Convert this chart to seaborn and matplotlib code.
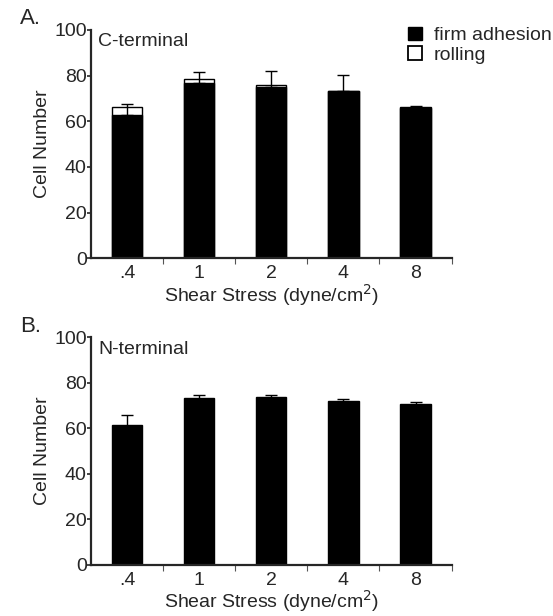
import numpy as np
import pandas as pd
import matplotlib
matplotlib.use('Agg')
import matplotlib.pyplot as plt
from matplotlib.patches import Patch
import seaborn as sns

# Data
stress = ['.4', '1', '2', '4', '8']

# A. C-terminal
c_firm = [62.9, 76.9, 75.0, 73.3, 66.0]
c_rolling = [3.2, 1.6, 0.9, 0.0, 0.4]
c_err_up = [1.3, 3.0, 6.0, 7.0, 0.4]

# B. N-terminal
n_firm = [61.3, 73.3, 73.6, 72.0, 70.6]
n_err = [4.4, 1.5, 1.0, 0.7, 0.7]

sns.set_style('ticks')
plt.rcParams['font.family'] = ['Liberation Sans', 'DejaVu Sans']
plt.rcParams['font.size'] = 14

fig = plt.figure(figsize=(5.53, 6.16), dpi=100)
ax_a = fig.add_axes([0.1646, 0.5807, 0.652, 0.3706])
ax_b = fig.add_axes([0.1646, 0.0835, 0.652, 0.3690])

df_c = pd.DataFrame({'stress': stress, 'firm': c_firm,
                     'total': np.array(c_firm) + np.array(c_rolling)})
df_n = pd.DataFrame({'stress': stress, 'firm': n_firm})

bw = 0.42

# panel A: stacked (rolling on top of firm adhesion)
sns.barplot(data=df_c, x='stress', y='total', color='white', edgecolor='black',
            linewidth=1, width=bw, ax=ax_a, saturation=1)
sns.barplot(data=df_c, x='stress', y='firm', color='black', edgecolor='black',
            linewidth=1, width=bw, ax=ax_a, saturation=1)
ax_a.errorbar(np.arange(len(stress)), df_c['total'],
              yerr=[c_rolling, c_err_up], fmt='none', ecolor='black',
              elinewidth=1, capsize=4, capthick=1, zorder=5)

# panel B
sns.barplot(data=df_n, x='stress', y='firm', color='black', edgecolor='black',
            linewidth=1, width=bw, ax=ax_b, saturation=1)
ax_b.errorbar(np.arange(len(stress)), df_n['firm'], yerr=n_err, fmt='none',
              ecolor='black', elinewidth=1, capsize=4, capthick=1, zorder=5)

for ax, name in [(ax_a, 'C-terminal'), (ax_b, 'N-terminal')]:
    ax.set_xlim(-0.5, 4.5)
    ax.set_ylim(0, 100)
    ax.set_yticks([0, 20, 40, 60, 80, 100])
    ax.set_xticks(range(len(stress)))
    ax.set_xticklabels(stress)
    ax.set_xticks([0.5, 1.5, 2.5, 3.5, 4.5], minor=True)
    ax.tick_params(axis='x', which='major', length=0, pad=5, labelsize=14)
    ax.tick_params(axis='x', which='minor', length=4, width=0.8, color='#555555')
    ax.tick_params(axis='y', length=3, width=1.2, labelsize=14, pad=0)
    for s in ['left', 'bottom']:
        ax.spines[s].set_linewidth(1.6)
    sns.despine(ax=ax)
    ax.set_xlabel('Shear Stress (dyne/cm$^2$)', fontsize=14, labelpad=0)
    ax.set_ylabel('Cell Number', fontsize=14, labelpad=2)
    ax.text(0.02, 0.985, name, transform=ax.transAxes, fontsize=14,
            ha='left', va='top')

handles = [Patch(facecolor='black', edgecolor='black', label='firm adhesion'),
           Patch(facecolor='white', edgecolor='black', linewidth=1.3, label='rolling')]
ax_a.legend(handles=handles, loc='upper left', bbox_to_anchor=(0.88, 1.015),
            frameon=False, fontsize=14, handlelength=0.7, handleheight=0.7,
            handletextpad=0.6, labelspacing=0.1, borderpad=0, borderaxespad=0)

fig.text(0.036, 0.987, 'A.', fontsize=16, ha='left', va='top')
fig.text(0.036, 0.487, 'B.', fontsize=16, ha='left', va='top')

fig.savefig('out.png', dpi=100)
